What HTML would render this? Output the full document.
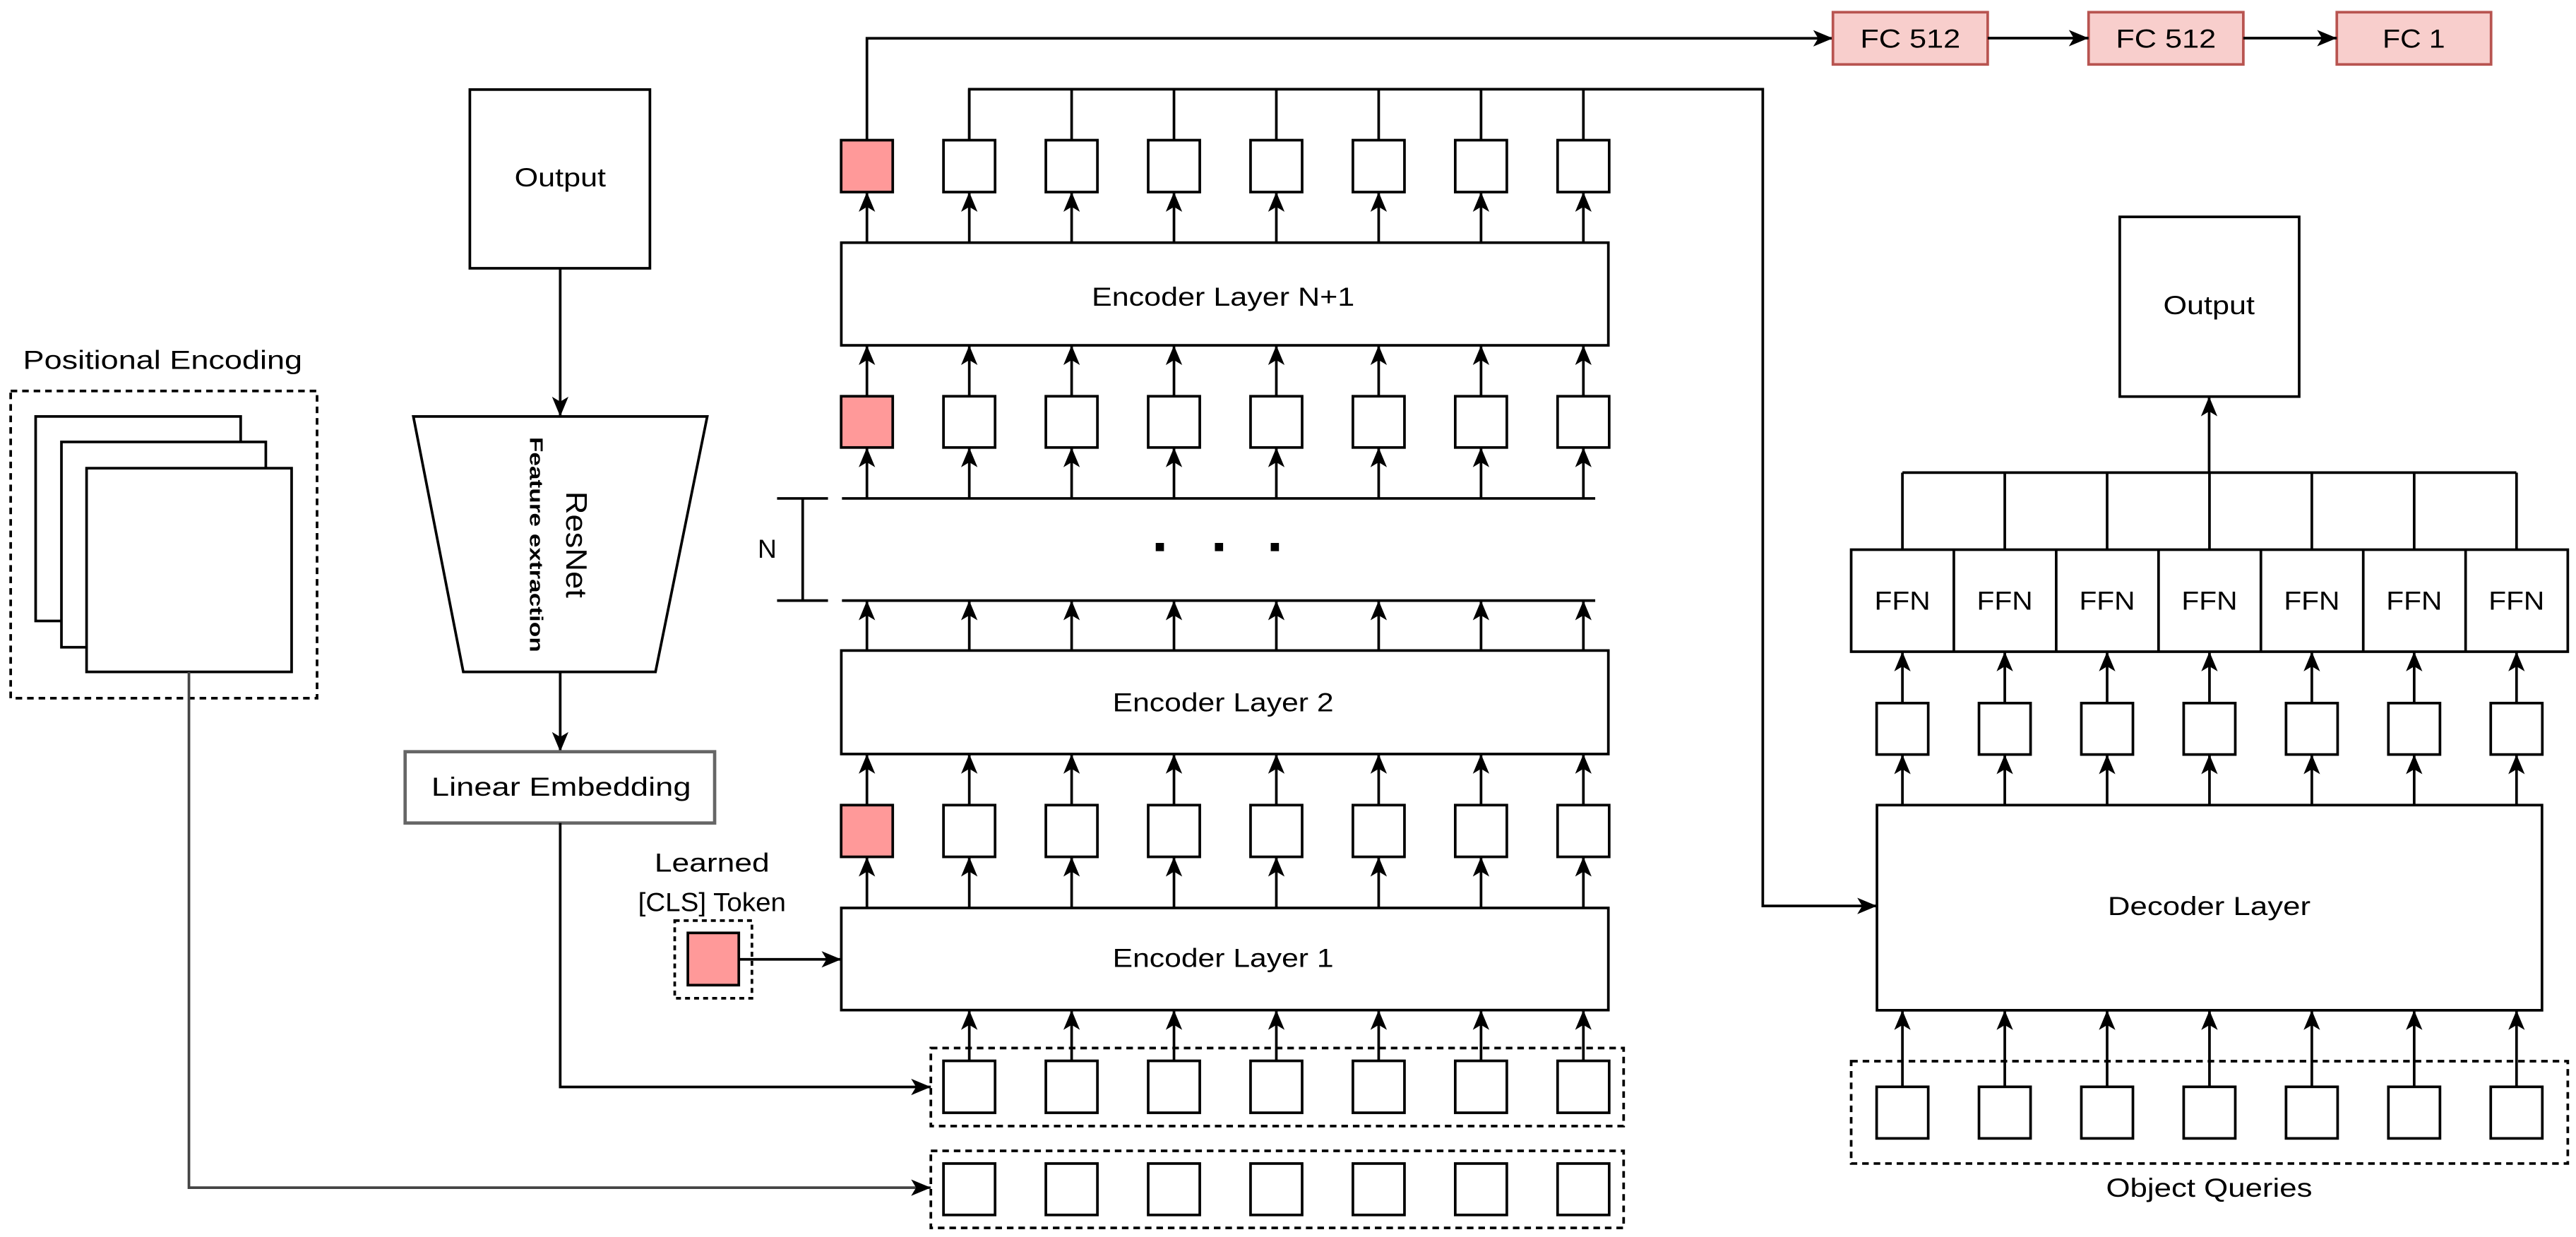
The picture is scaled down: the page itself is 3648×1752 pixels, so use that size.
<!DOCTYPE html>
<html><head><meta charset="utf-8"><style>
html,body{margin:0;padding:0;background:#fff;}
svg{display:block;}
text{font-family:"Liberation Sans",Arial,sans-serif;fill:#000;}
</style></head><body>
<svg width="3648" height="1752" viewBox="0 0 1568 753" xmlns="http://www.w3.org/2000/svg">
<defs>
<marker id="a" markerUnits="userSpaceOnUse" markerWidth="16" markerHeight="14" viewBox="-14 -7 15 14" refX="0" refY="0" orient="auto">
<path d="M0,0 L-12,-5 L-9,0 L-12,5 Z" fill="#000"/>
</marker>
</defs>
<g fill="none" stroke="#000" stroke-width="1.6">
<rect x="6.5" y="238" width="186.5" height="187" stroke-dasharray="4,3"/>
<rect x="21.7" y="253.5" width="124.8" height="124.5" fill="#fff"/>
<rect x="37.4" y="269" width="124.4" height="125" fill="#fff"/>
<rect x="52.7" y="285" width="124.8" height="124" fill="#fff"/>
<rect x="286" y="54.5" width="109.6" height="108.8"/>
<line x1="341" y1="163.3" x2="341" y2="253.5" marker-end="url(#a)"/>
<path d="M251.6,253.5 L430.5,253.5 L399,409 L282,409 Z"/>
<line x1="341" y1="409" x2="341" y2="457.6" marker-end="url(#a)"/>
<rect x="246.6" y="457.6" width="188.4" height="43.4" stroke="#666" stroke-width="2"/>
<path d="M341,501 V661.7 H566.6" marker-end="url(#a)"/>
<path d="M115,409 V723 H566.6" stroke="#444" marker-end="url(#a)"/>
<rect x="410.7" y="560.4" width="47" height="47.3" stroke-dasharray="3,2.5"/>
<rect x="418.7" y="567.9" width="31" height="31.8" fill="#ff9999"/>
<line x1="449.7" y1="584" x2="512.1" y2="584" marker-end="url(#a)"/>
<rect x="512.1" y="147.7" width="466.9" height="62.5"/>
<rect x="512.1" y="396" width="466.9" height="63"/>
<rect x="512.1" y="552.7" width="466.9" height="62.2"/>
<line x1="512.5" y1="303.4" x2="971" y2="303.4"/>
<line x1="512.5" y1="365.6" x2="971" y2="365.6"/>
<line x1="473" y1="303.4" x2="504" y2="303.4"/>
<line x1="473" y1="365.6" x2="504" y2="365.6"/>
<line x1="488.6" y1="303.4" x2="488.6" y2="365.6"/>
<path d="M527.7,85.3 V23.3 H1115.7" marker-end="url(#a)"/>
<path d="M590,85.3 V54.3 H1073 V551.5 H1142.5" marker-end="url(#a)"/>
<rect x="566.6" y="638" width="421.7" height="47.5" stroke-dasharray="4,3"/>
<rect x="566.6" y="700.6" width="421.7" height="46.9" stroke-dasharray="4,3"/>
</g>
<g id="cols" fill="none" stroke="#000" stroke-width="1.6">
</g>
<g stroke="#b85450" stroke-width="1.6" fill="#f8cecc">
<rect x="1115.7" y="7.4" width="94.2" height="31.8"/>
<rect x="1271.3" y="7.4" width="94.2" height="31.8"/>
<rect x="1422.4" y="7.4" width="93.9" height="31.8"/>
</g>
<g fill="none" stroke="#000" stroke-width="1.6">
<line x1="1209.9" y1="23.2" x2="1271.3" y2="23.2" marker-end="url(#a)"/>
<line x1="1365.5" y1="23.2" x2="1422.4" y2="23.2" marker-end="url(#a)"/>
<rect x="1290.3" y="132" width="109.2" height="109.4"/>
<line x1="1344.7" y1="287.7" x2="1344.7" y2="241.4" marker-end="url(#a)"/>
<line x1="1158" y1="287.7" x2="1531.7" y2="287.7"/>
<rect x="1126.8" y="334.6" width="436.2" height="62.1"/>
<rect x="1142.5" y="490.1" width="404.8" height="124.9"/>
<rect x="1126.8" y="646" width="436.2" height="62.3" stroke-dasharray="4,3"/>
</g>
<g font-size="16" text-anchor="middle" dominant-baseline="central">
<text x="99" y="219" textLength="170" lengthAdjust="spacingAndGlyphs">Positional Encoding</text>
<text x="341" y="107.8" textLength="55.6" lengthAdjust="spacingAndGlyphs">Output</text>
<text x="341.6" y="478.7" textLength="158" lengthAdjust="spacingAndGlyphs">Linear Embedding</text>
<text transform="translate(351,331.5) rotate(90)" x="0" y="0" font-size="18" textLength="65" lengthAdjust="spacingAndGlyphs">ResNet</text>
<text transform="translate(326,331.5) rotate(90)" x="0" y="0" font-size="11" font-weight="bold" textLength="131" lengthAdjust="spacingAndGlyphs">Feature extraction</text>
<text x="744.5" y="180.5" textLength="160" lengthAdjust="spacingAndGlyphs">Encoder Layer N+1</text>
<text x="744.5" y="427.5" textLength="134.5" lengthAdjust="spacingAndGlyphs">Encoder Layer 2</text>
<text x="744.5" y="583" textLength="134.5" lengthAdjust="spacingAndGlyphs">Encoder Layer 1</text>
<text x="433.4" y="525" textLength="70" lengthAdjust="spacingAndGlyphs">Learned</text>
<text x="433.4" y="549" textLength="90" lengthAdjust="spacingAndGlyphs">[CLS] Token</text>
<text x="467" y="334">N</text>
<text x="1162.8" y="23.3" textLength="61" lengthAdjust="spacingAndGlyphs">FC 512</text>
<text x="1318.4" y="23.3" textLength="61" lengthAdjust="spacingAndGlyphs">FC 512</text>
<text x="1469.3" y="23.3" textLength="38" lengthAdjust="spacingAndGlyphs">FC 1</text>
<text x="1344.6" y="185.6" textLength="55.7" lengthAdjust="spacingAndGlyphs">Output</text>
<text x="1344.7" y="551.5" textLength="123.4" lengthAdjust="spacingAndGlyphs">Decoder Layer</text>
<text x="1344.7" y="723" textLength="125.5" lengthAdjust="spacingAndGlyphs">Object Queries</text>
</g>
<g fill="#000">
<rect x="703.5" y="330.5" width="5" height="5"/>
<rect x="739.5" y="330.5" width="5" height="5"/>
<rect x="773.5" y="330.5" width="5" height="5"/>
</g>
<script>
(function(){
var ns="http://www.w3.org/2000/svg";var g=document.getElementById("cols");
function el(t,a){var e=document.createElementNS(ns,t);for(var k in a)e.setAttribute(k,a[k]);g.appendChild(e);return e;}
function box(cx,y1,y2,fill){el("rect",{x:cx-15.7,y:y1,width:31.4,height:y2-y1,fill:fill||"#fff"});}
function up(x,y1,y2){el("line",{x1:x,y1:y1,x2:x,y2:y2,"marker-end":"url(#a)"});}
function ln(x,y1,y2){el("line",{x1:x,y1:y1,x2:x,y2:y2});}
for(var i=0;i<8;i++){
 var x=527.7+62.3*i; var f=i==0?"#ff9999":"#fff";
 box(x,85.3,116.9,f); box(x,241.2,272.4,f); box(x,490.1,521.6,f);
 up(x,147.7,116.9); up(x,241.2,210.2); up(x,303.4,272.4); up(x,396,365.6); up(x,490.1,459); up(x,552.7,521.6);
 if(i>0){ ln(x,85.3,54.3); box(x,645.8,677.4); box(x,708.3,739.6); up(x,645.8,614.9); }
}
for(var j=0;j<7;j++){
 var x=1158+62.3*j;
 ln(x,334.6,287.7);
 if(j>0) ln(1127+62.3*j,334.6,396.7);
 box(x,428,459.3); box(x,661.6,693);
 up(x,428,396.7); up(x,490.1,459.3); up(x,661.6,615);
}
var ffn=document.querySelector("g[font-size='16']");
for(var j=0;j<7;j++){var t=document.createElementNS(ns,"text");t.setAttribute("x",1158+62.3*j);t.setAttribute("y",365.6);t.setAttribute("textLength","34");t.setAttribute("lengthAdjust","spacingAndGlyphs");t.textContent="FFN";ffn.appendChild(t);}
})();
</script>
</svg>
</body></html>
